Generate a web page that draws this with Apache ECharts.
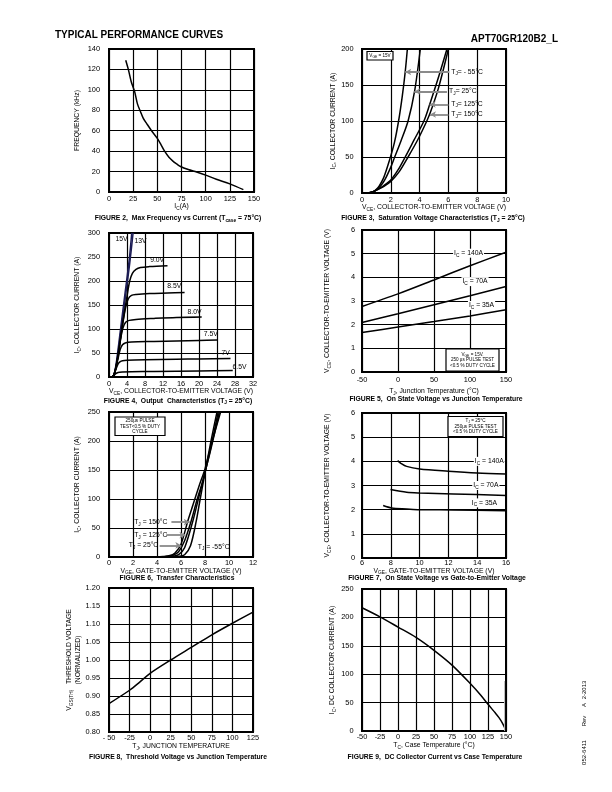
<!DOCTYPE html>
<html><head><meta charset="utf-8">
<script src="https://cdn.jsdelivr.net/npm/echarts@6/dist/echarts.min.js"></script>
<style>html,body{margin:0;padding:0;background:#fff}#c{width:612px;height:792px}</style>
</head><body><div id="c"></div><script>
const FONT = '"Liberation Sans", Arial, sans-serif';

// ---------- DATA ----------
// Fig 2: max frequency (kHz) vs Ic (A)
const fig2Freq = [[17.3,129],[20,120],[23,108],[26.6,98],[29.5,86],[32.5,78.8],[35.5,72],[38.7,67.4],[44,60],[49.8,52.7],[54,46],[57.7,39.7],[62,34],[66.4,30],[70,27.5],[74,25],[82,22],[90.6,19.5],[100,16.5],[111,12.5],[125,8],[139,2.3]];
// Fig 3: saturation voltage characteristics (Vce, Ic)
const satM55 = [[0,0],[0.5,0.5],[0.8,2],[1.0,5],[1.2,10],[1.5,21],[1.9,45],[2.25,70],[2.54,100],[2.8,135],[3.0,168],[3.15,200]];
const sat25  = [[0,0],[0.5,0.5],[0.8,2],[1.0,4.5],[1.3,10],[1.6,19],[2.0,36],[2.27,50],[2.7,72],[3.2,100],[3.65,141],[4.05,200]];
const sat125 = [[0,0],[0.5,0.5],[0.8,2],[1.0,4],[1.5,10],[2.0,18],[2.5,32],[3.0,50],[3.6,73],[4.3,100],[4.7,123],[5.3,160],[5.9,200]];
const sat150 = [[0,0],[0.5,0.5],[0.8,2],[1.0,4],[1.5,9],[2.0,16],[2.6,30],[3.2,50],[3.9,75],[4.5,100],[4.75,112],[5.3,145],[6.0,200]];
// Fig 4: output characteristics (Vce, Ic) per Vge
const out15 = [[0.6,0],[1.0,3],[1.3,12],[1.7,35],[2.5,95],[3.5,170],[4.5,245],[5.05,300]];
const out13 = [[0.6,0],[1.0,3],[1.3,11],[1.8,35],[2.6,92],[3.6,163],[4.6,236],[5.35,300]];
const out9  = [[0.6,0],[1.0,3],[1.4,14],[2,45],[3,110],[4,168],[4.6,200],[5.2,216],[6,224],[7,228],[9,230],[13,232]];
const out85 = [[0.6,0],[1.0,3],[1.4,14],[2,44],[3,107],[3.7,145],[4.3,163],[5,170],[6,172],[9,174],[13,175],[16.8,176]];
const out8  = [[0.6,0],[1.0,3],[1.4,13],[2,43],[2.6,80],[3.1,102],[3.7,114],[4.5,118],[6,120],[10,122],[15,124],[20.6,125]];
const out75 = [[0.6,0],[1.0,3],[1.5,17],[2,38],[2.5,58],[3,67],[3.6,71],[5,73],[10,74],[15,75],[20,76],[24,77]];
const out7  = [[0.6,0],[1,3],[1.5,15],[2,27],[2.5,32],[3,34],[4,35],[8,36],[15,37],[20,37.5],[27,38.5]];
const out65 = [[0.6,0],[1,2],[1.5,7],[2,9.5],[3,10.5],[5,11],[10,11.5],[20,12.5],[27.5,13.5]];
// Fig 5: on-state voltage vs junction temperature
const tj140 = [[-50,2.77],[0,3.3],[50,3.89],[100,4.49],[150,5.06]];
const tj70  = [[-50,2.09],[0,2.46],[50,2.84],[100,3.22],[150,3.61]];
const tj35  = [[-50,1.67],[0,1.9],[50,2.13],[100,2.37],[150,2.63]];
// Fig 6: transfer characteristics (Vge, Ic)
const tr150 = [[0,0],[4.0,0.3],[4.5,0.8],[5,2],[5.5,7],[6,22],[6.58,63],[7,90],[7.5,122],[8,152],[8.5,192],[9.3,250]];
const tr125 = [[0,0],[4.3,0.3],[4.8,0.8],[5.3,2.5],[5.8,9],[6.3,28],[6.86,63],[7.3,96],[7.8,130],[8.05,150],[8.5,187],[9.2,250]];
const tr25  = [[0,0],[4.8,0.3],[5.3,1],[5.8,4],[6.3,16],[7.0,63],[7.4,96],[8.05,150],[8.5,190],[9.1,250]];
const trM55 = [[0,0],[5.3,0.3],[5.8,1],[6.3,4],[6.8,20],[7.28,63],[7.6,100],[8.0,145],[8.5,200],[9.0,250]];
// Fig 7: on-state voltage vs gate-emitter voltage
const vg140 = [[8.47,4.03],[8.7,3.92],[9.1,3.79],[10,3.68],[12,3.59],[14,3.52],[16,3.48]];
const vg70  = [[7.98,2.83],[9.1,2.72],[10,2.69],[12.35,2.65],[16,2.59]];
const vg35  = [[7.47,2.17],[8.05,2.07],[9.1,2.03],[10,2.0],[12.3,1.99],[16,1.96]];
// Fig 8: threshold voltage (normalized) vs Tj
const thresh = [[-50,0.879],[-25,0.916],[-12,0.94],[0,0.963],[25,1.0],[50,1.035],[75,1.07],[100,1.102],[125,1.133]];
// Fig 9: DC collector current vs case temperature
const dcCurrent = [[-50,217],[-25,201],[0,183],[25,164.7],[50,142],[75,116],[100,84],[115,63],[125,47],[135,32],[140,24],[145,14],[150,1]];
const dcFaint = [[148,0],[148,88]];

// arrows (from, to) in data units
const fig3Arrows = [[[6.06,168],[3.0,168]],[[5.9,141],[3.63,141]],[[6.0,123],[4.7,123]],[[6.0,109],[4.72,109]]];
const fig6Arrows = [[[5.2,60],[6.73,60]],[[4.78,37.6],[6.37,37.6]],[[4.22,20],[6.03,20]]];

// ---------- LAYOUT ----------
const grids = [
  {left:109, top:49, width:145, height:143},
  {left:362, top:49, width:144, height:144},
  {left:109, top:233, width:144, height:144},
  {left:362, top:230, width:144, height:142},
  {left:109, top:412, width:144, height:145},
  {left:362, top:413, width:144, height:145},
  {left:109, top:588, width:144, height:144},
  {left:362, top:589, width:144, height:142}
].map(g => Object.assign({show:true, borderColor:'#000', borderWidth:2, containLabel:false}, g));

const rich = {
  n:{fontSize:6.8, fontFamily:FONT, color:'#000', lineHeight:9},
  s:{fontSize:4.8, fontFamily:FONT, color:'#000', lineHeight:4, verticalAlign:'bottom'},
  b:{fontSize:6.8, fontFamily:FONT, color:'#000', fontWeight:'bold', lineHeight:9},
  bs:{fontSize:4.8, fontFamily:FONT, color:'#000', fontWeight:'bold', lineHeight:4, verticalAlign:'bottom'}
};

function ax(gi, min, max, interval, name, gap, margin, fmt, extra) {
  return Object.assign({
    type:'value', gridIndex:gi, min, max, interval,
    name, nameLocation:'middle', nameGap:gap,
    nameTextStyle:{rich, fontSize:6.8, fontFamily:FONT, color:'#000'},
    axisLine:{show:false}, axisTick:{show:false},
    splitLine:{show:true, lineStyle:{color:'#000', width:1.2}},
    axisLabel:{color:'#000', fontSize:7.4, fontFamily:FONT, margin, formatter: fmt || (v => String(Math.round(v*100)/100))}
  }, extra || {});
}

const xAxes = [
  ax(0,0,150,25,'{n|I}{s|C}{n|(A)}',10,3),
  ax(1,0,10,2,'{n|V}{s|CE}{n|, COLLECTOR-TO-EMITTER VOLTAGE (V)}',10,3),
  ax(2,0,32,4,'{n|V}{s|CE}{n|, COLLECTOR-TO-EMITTER VOLTAGE (V)}',10,3),
  ax(3,-50,150,50,'{n|T}{s|J}{n|, Junction Temperature (°C)}',15,4),
  ax(4,0,12,2,'{n|V}{s|GE}{n|, GATE-TO-EMITTER VOLTAGE (V)}',9,2.5),
  ax(5,6,16,2,'{n|V}{s|GE}{n|, GATE-TO-EMITTER VOLTAGE (V)}',7,1.5),
  ax(6,-50,125,25,'{n|T}{s|J}{n|, JUNCTION TEMPERATURE}',10,2, v => v === -50 ? '- 50' : String(v)),
  ax(7,-50,150,25,'{n|T}{s|C}{n|, Case Temperature (°C)}',10,2)
];
const yAxes = [
  ax(0,0,140,20,'{n|FREQUENCY (kHz)}',27,9),
  ax(1,0,200,50,'{n|I}{s|C}{n|, COLLECTOR CURRENT (A)}',24,8.5),
  ax(2,0,300,50,'{n|I}{s|C}{n|, COLLECTOR CURRENT (A)}',27,9),
  ax(3,0,6,1,'{n|V}{s|CE}{n|, COLLECTOR-TO-EMITTER VOLTAGE (V)}',30,7),
  ax(4,0,250,50,'{n|I}{s|C}{n|, COLLECTOR CURRENT (A)}',27,9),
  ax(5,0,6,1,'{n|V}{s|CE}{n|, COLLECTOR-TO-EMITTER VOLTAGE (V)}',30,7),
  ax(6,0.8,1.2,0.05,'{n|V}{s|GS(TH)}{n|   THRESHOLD VOLTAGE}\n{n|(NORMALIZED)}',22,9, v => v.toFixed(2)),
  ax(7,0,250,50,'{n|I}{s|C}{n|, DC COLLECTOR CURRENT (A)}',25,8.5)
];

function line(gi, data, color, width, extra) {
  return Object.assign({
    type:'line', xAxisIndex:gi, yAxisIndex:gi, data, showSymbol:false, symbol:'none',
    smooth:0.3, lineStyle:{color: color || '#000', width: width || 1.5}, silent:true, z:3
  }, extra || {});
}
function arrows(list) {
  return {silent:true, symbol:['none','arrow'], symbolSize:[5,6], animation:false,
    lineStyle:{color:'#8a8a8a', width:1.8, type:'solid'}, label:{show:false},
    data: list.map(a => [{coord:a[0]},{coord:a[1]}])};
}

const series = [
  line(0, fig2Freq),
  line(1, satM55, '#000', 1.5, {markLine: arrows(fig3Arrows)}),
  line(1, sat25), line(1, sat125), line(1, sat150),
  line(2, out15, '#1c1c55', 1.5), line(2, out13, '#1c1c55', 1.5),
  line(2, out9), line(2, out85), line(2, out8), line(2, out75), line(2, out7), line(2, out65),
  line(3, tj140), line(3, tj70), line(3, tj35),
  line(4, tr150, '#000', 1.5, {markLine: arrows(fig6Arrows)}), line(4, tr125), line(4, tr25), line(4, trM55),
  line(5, vg140), line(5, vg70), line(5, vg35),
  line(6, thresh),
  line(7, dcCurrent),
  line(7, dcFaint, '#bbbbbb', 1, {smooth:false})
];

const chart = echarts.init(document.getElementById('c'), null, {renderer:'canvas'});
chart.setOption({animation:false, backgroundColor:'#fff', grid:grids, xAxis:xAxes, yAxis:yAxes, series});

// ---------- ANNOTATIONS (data coords) ----------
const annotations = [
  {g:1, at:[6.2,168], t:'{n|T}{s|J}{n|= - 55°C}', align:'left'},
  {g:1, at:[6.05,141], t:'{n|T}{s|J}{n|= 25°C}', align:'left'},
  {g:1, at:[6.2,124], t:'{n|T}{s|J}{n|= 125°C}', align:'left'},
  {g:1, at:[6.2,109], t:'{n|T}{s|J}{n|= 150°C}', align:'left'},
  {g:2, at:[2.8,288], t:'{n|15V}', align:'center'},
  {g:2, at:[7.0,284], t:'{n|13V}', align:'center'},
  {g:2, at:[10.7,244], t:'{n|9.0V}', align:'center'},
  {g:2, at:[14.5,190], t:'{n|8.5V}', align:'center'},
  {g:2, at:[19,136], t:'{n|8.0V}', align:'center'},
  {g:2, at:[22.6,89], t:'{n|7.5V}', align:'center'},
  {g:2, at:[25.9,50], t:'{n|7V}', align:'center'},
  {g:2, at:[29,21], t:'{n|6.5V}', align:'center'},
  {g:3, at:[98,5.02], t:'{n|I}{s|C}{n| = 140A}', align:'center', bg:true},
  {g:3, at:[107,3.82], t:'{n|I}{s|C}{n| = 70A}', align:'center', bg:true},
  {g:3, at:[116,2.81], t:'{n|I}{s|C}{n| = 35A}', align:'center', bg:true},
  {g:4, at:[2.1,60], t:'{n|T}{s|J}{n| = 150°C}', align:'left'},
  {g:4, at:[2.1,37.6], t:'{n|T}{s|J}{n| = 125°C}', align:'left'},
  {g:4, at:[1.65,20], t:'{n|T}{s|J}{n| = 25°C}', align:'left'},
  {g:4, at:[7.4,17.3], t:'{n|T}{s|J}{n| = -55°C}', align:'left'},
  {g:5, at:[14.84,4.0], t:'{n|I}{s|C}{n| = 140A}', align:'center', bg:true},
  {g:5, at:[14.6,3.0], t:'{n|I}{s|C}{n| = 70A}', align:'center', bg:true},
  {g:5, at:[14.5,2.28], t:'{n|I}{s|C}{n| = 35A}', align:'center', bg:true}
];

const small = {
  t:{fontSize:4.6, fontFamily:FONT, color:'#000', lineHeight:5.6},
  ts:{fontSize:3.4, fontFamily:FONT, color:'#000', lineHeight:3, verticalAlign:'bottom'}
};
function box(x, y, w, h, text) {
  return [
    {type:'rect', shape:{x, y, width:w, height:h}, style:{fill:'#fff', stroke:'#000', lineWidth:1.2}, z:10},
    {type:'text', x:x+w/2, y:y+h/2, z:11, style:{text, rich:small, align:'center', verticalAlign:'middle', fill:'#000'}}
  ];
}
function caption(cx, cy, text) {
  return {type:'text', x:cx, y:cy, z:11, style:{text, rich, align:'center', verticalAlign:'middle'}};
}

const graphics = [];
annotations.forEach(a => {
  const p = chart.convertToPixel({gridIndex:a.g}, a.at);
  graphics.push({type:'text', x:p[0], y:p[1], z:12, style:Object.assign({
    text:a.t, rich, align:a.align, verticalAlign:'middle'
  }, a.bg ? {backgroundColor:'#fff', padding:[0,1]} : {})});
});
graphics.push(...box(367, 51.5, 26, 8.5, '{t|V}{ts|GE}{t| = 15V}'));
graphics.push(...box(115, 417, 50, 18.5, '{t|250µs PULSE}\n{t|TEST<0.5 % DUTY}\n{t|CYCLE}'));
graphics.push(...box(446, 349, 53, 22, '{t|V}{ts|GE}{t| = 15V.}\n{t|250 µs PULSE TEST}\n{t|<0.5 % DUTY CYCLE}'));
graphics.push(...box(448, 416.5, 55, 20, '{t|T}{ts|J}{t| = 25°C}\n{t|250µs PULSE TEST}\n{t|<0.5 % DUTY CYCLE}'));

graphics.push({type:'text', x:55, y:35.5, style:{text:'TYPICAL PERFORMANCE CURVES', font:'bold 10px ' + FONT, fill:'#000', align:'left', verticalAlign:'middle'}});
graphics.push({type:'text', x:558, y:39, style:{text:'APT70GR120B2_L', font:'bold 10px ' + FONT, fill:'#000', align:'right', verticalAlign:'middle'}});

graphics.push(caption(178, 218.5, '{b|FIGURE 2,  Max Frequency vs Current (T}{bs|case}{b| = 75°C)}'));
graphics.push(caption(433, 218.5, '{b|FIGURE 3,  Saturation Voltage Characteristics (T}{bs|J}{b| = 25°C)}'));
graphics.push(caption(178, 401, '{b|FIGURE 4,  Output  Characteristics (T}{bs|J}{b| = 25°C)}'));
graphics.push(caption(436, 399.5, '{b|FIGURE 5,  On State Voltage vs Junction Temperature}'));
graphics.push(caption(177, 578.5, '{b|FIGURE 6,  Transfer Characteristics}'));
graphics.push(caption(437, 578.5, '{b|FIGURE 7,  On State Voltage vs Gate-to-Emitter Voltage}'));
graphics.push(caption(178, 757, '{b|FIGURE 8,  Threshold Voltage vs Junction Temperature}'));
graphics.push(caption(435, 757, '{b|FIGURE 9,  DC Collector Current vs Case Temperature}'));

[['052-6411',752.5],['Rev',721],['A',705],['2-2013',690]].forEach(s => {
  graphics.push({type:'text', x:584, y:s[1], rotation:Math.PI/2, style:{text:s[0], font:'6px ' + FONT, fill:'#000', align:'center', verticalAlign:'middle'}});
});

chart.setOption({graphic: graphics});
</script></body></html>
